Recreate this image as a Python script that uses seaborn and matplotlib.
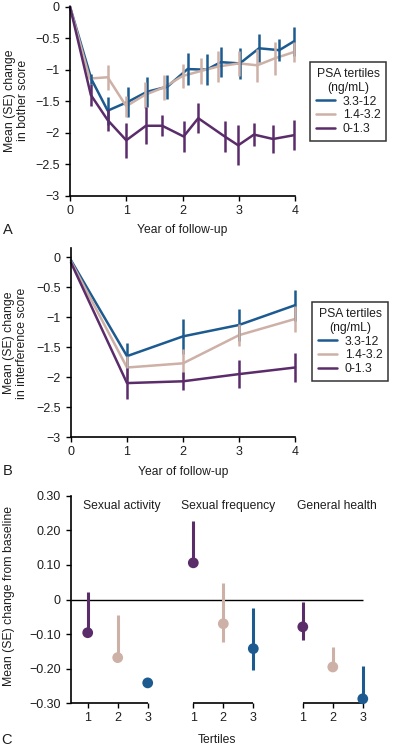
import numpy as np
import pandas as pd
import matplotlib
matplotlib.use("Agg")
import matplotlib.pyplot as plt
import seaborn as sns
from matplotlib.ticker import FuncFormatter

# ---------------- data ----------------
tertiles = ["3.3-12", "1.4-3.2", "0-1.3"]
colors = {"3.3-12": "#1c5a8f", "1.4-3.2": "#cdb0a6", "0-1.3": "#5b2c6a"}

# Panel A: bother score
a_year_hi = [0, 0.38, 0.67, 1.03, 1.37, 1.73, 2.09, 2.43, 2.68, 3.02, 3.36, 3.72, 3.98]
a_mean_hi = [0, -1.15, -1.65, -1.51, -1.35, -1.27, -0.99, -1.00, -0.88, -0.90, -0.66, -0.69, -0.55]
a_se_hi = [0, 0.08, 0.22, 0.24, 0.24, 0.19, 0.25, 0.25, 0.24, 0.24, 0.22, 0.17, 0.23]

a_year_mid = [0, 0.35, 0.67, 1.0, 1.33, 1.67, 2.0, 2.33, 2.63, 3.0, 3.33, 3.64, 3.98]
a_mean_mid = [0, -1.14, -1.12, -1.58, -1.40, -1.28, -1.10, -1.02, -0.95, -0.90, -0.93, -0.82, -0.72]
a_se_mid = [0, 0.0, 0.2, 0.17, 0.21, 0.2, 0.19, 0.2, 0.25, 0.2, 0.26, 0.26, 0.16]

a_year_lo = [0, 0.37, 0.67, 1.0, 1.35, 1.64, 2.02, 2.28, 2.75, 2.99, 3.27, 3.61, 3.98]
a_mean_lo = [0, -1.40, -1.80, -2.12, -1.89, -1.89, -2.06, -1.77, -2.06, -2.20, -2.03, -2.10, -2.04]
a_se_lo = [0, 0.17, 0.18, 0.28, 0.29, 0.17, 0.25, 0.24, 0.24, 0.32, 0.18, 0.22, 0.24]

# Panel B: interference score
b_year = [0, 1, 2, 3, 4]
b_mean_hi = [-0.05, -1.65, -1.32, -1.13, -0.80]
b_se_hi = [0, 0.22, 0.29, 0.26, 0.26]
b_mean_mid = [-0.07, -1.84, -1.77, -1.30, -1.03]
b_se_mid = [0, 0.20, 0.24, 0.18, 0.21]
b_mean_lo = [-0.09, -2.10, -2.07, -1.95, -1.84]
b_se_lo = [0, 0.26, 0.15, 0.24, 0.25]

# Panel C: change from baseline
c_outcomes = ["Sexual activity", "Sexual frequency", "General health"]
c_tertile = [1, 2, 3]
c_mean = [-0.096, -0.168, -0.241, 0.106, -0.070, -0.142, -0.079, -0.195, -0.287]
c_low = [-0.096, -0.168, -0.241, 0.106, -0.123, -0.205, -0.116, -0.195, -0.287]
c_high = [0.022, -0.046, -0.241, 0.228, 0.048, -0.026, -0.008, -0.137, -0.193]
c_tertile_label = ["0-1.3", "1.4-3.2", "3.3-12"]  # tertile 1,2,3 colours

# ---------------- style ----------------
sns.set_theme(style="ticks")
plt.rcParams["font.family"] = ["Liberation Sans", "DejaVu Sans"]
plt.rcParams["axes.unicode_minus"] = True
FS = 8.7
FST = 9.0
FSY = 8.8
TXT = "#1e1e1e"
LW = 1.8

W, H = 395, 748
fig = plt.figure(figsize=(W / 100, H / 100), dpi=100)
fig.patch.set_facecolor("white")


def px_axes(l, t, r, b):
    return fig.add_axes([l / W, 1 - b / H, (r - l) / W, (b - t) / H])


fmt = FuncFormatter(lambda v, p: ("%g" % round(v, 3)).replace("-", "\u2212"))
fmt2 = FuncFormatter(lambda v, p: "0" if abs(v) < 1e-9 else ("%.2f" % v).replace("-", "\u2212"))


def style_axes(ax):
    sns.despine(ax=ax)
    for s in ("left", "bottom"):
        ax.spines[s].set_color("black")
        ax.spines[s].set_linewidth(1.2)
    ax.tick_params(axis="both", direction="out", length=3.5, width=1.0,
                   color="black", labelsize=FST, labelcolor=TXT)
    ax.tick_params(axis="y", pad=4.0)
    ax.tick_params(axis="x", pad=3)
    ax.set_xlabel("")
    ax.set_ylabel("")


def make_legend(ax, x0, y0):
    h, l = ax.get_legend_handles_labels()
    if ax.get_legend() is not None:
        ax.get_legend().remove()
    leg = ax.legend(h, l, title="PSA tertiles\n(ng/mL)", loc="upper left",
                    bbox_to_anchor=(x0 / W, 1 - y0 / H), bbox_transform=fig.transFigure,
                    frameon=True, fancybox=False, edgecolor="black", fontsize=FS,
                    title_fontsize=FS, handlelength=1.6, handletextpad=0.6,
                    labelspacing=0.15, borderpad=0.5, borderaxespad=0)
    leg.get_frame().set_linewidth(1.1)
    leg.get_title().set_multialignment("center")
    leg.get_title().set_color(TXT)
    for t in leg.get_texts():
        t.set_color(TXT)
    for ln in leg.get_lines():
        ln.set_linewidth(LW)
    return leg


# ---------------- Panel A ----------------
axA = px_axes(70, 6.7, 295, 195.7)
dfA = pd.concat([
    pd.DataFrame({"year": a_year_hi, "change": a_mean_hi, "se": a_se_hi, "PSA": tertiles[0]}),
    pd.DataFrame({"year": a_year_mid, "change": a_mean_mid, "se": a_se_mid, "PSA": tertiles[1]}),
    pd.DataFrame({"year": a_year_lo, "change": a_mean_lo, "se": a_se_lo, "PSA": tertiles[2]}),
], ignore_index=True)
sns.lineplot(data=dfA, x="year", y="change", hue="PSA", hue_order=tertiles, palette=colors,
             estimator=None, errorbar=None, linewidth=LW, ax=axA, clip_on=False)
for t in tertiles:
    d = dfA[(dfA["PSA"] == t) & (dfA["se"] > 0)]
    axA.vlines(d["year"], d["change"] - d["se"], d["change"] + d["se"],
               color=colors[t], linewidth=LW, clip_on=False)
axA.set_xlim(0, 4)
axA.set_ylim(-3, 0)
axA.set_xticks([0, 1, 2, 3, 4])
axA.set_yticks([0, -0.5, -1, -1.5, -2, -2.5, -3])
axA.yaxis.set_major_formatter(fmt)
style_axes(axA)
make_legend(axA, 310, 62)

# ---------------- Panel B ----------------
axB = px_axes(71, 248.3, 295, 437)
dfB = pd.concat([
    pd.DataFrame({"year": b_year, "change": b_mean_hi, "se": b_se_hi, "PSA": tertiles[0]}),
    pd.DataFrame({"year": b_year, "change": b_mean_mid, "se": b_se_mid, "PSA": tertiles[1]}),
    pd.DataFrame({"year": b_year, "change": b_mean_lo, "se": b_se_lo, "PSA": tertiles[2]}),
], ignore_index=True)
sns.lineplot(data=dfB, x="year", y="change", hue="PSA", hue_order=tertiles, palette=colors,
             estimator=None, errorbar=None, linewidth=LW, ax=axB, clip_on=False)
for t in tertiles:
    d = dfB[(dfB["PSA"] == t) & (dfB["se"] > 0)]
    axB.vlines(d["year"], d["change"] - d["se"], d["change"] + d["se"],
               color=colors[t], linewidth=LW, clip_on=False)
axB.set_xlim(0, 4)
axB.set_ylim(-3, 0.15)
axB.set_xticks([0, 1, 2, 3, 4])
axB.set_yticks([0, -0.5, -1, -1.5, -2, -2.5, -3])
axB.yaxis.set_major_formatter(fmt)
style_axes(axB)
make_legend(axB, 312, 302)

# ---------------- Panel C ----------------
group_offset = [0, 3.52, 7.17]
axC = px_axes(71, 495.7, 372, 703.3)
rows = []
for gi, outc in enumerate(c_outcomes):
    for ti, tt in enumerate(c_tertile):
        k = gi * 3 + ti
        rows.append({"outcome": outc, "tertile": tt, "pos": group_offset[gi] + ti,
                     "mean": c_mean[k], "low": c_low[k], "high": c_high[k],
                     "PSA": c_tertile_label[ti]})
dfC = pd.DataFrame(rows)
xl = (-0.557, 9.477)
axC.set_xlim(*xl)
axC.set_ylim(-0.30, 0.30)
axC.hlines(0, xl[0], dfC["pos"].max(), color="black", linewidth=1.0, zorder=1)
for _, r in dfC.iterrows():
    if r["high"] > r["low"]:
        axC.vlines(r["pos"], r["low"], r["high"], color=colors[r["PSA"]],
                   linewidth=2.2, zorder=2, clip_on=False)
sns.scatterplot(data=dfC, x="pos", y="mean", hue="PSA", palette=colors, s=60,
                edgecolor="none", legend=False, ax=axC, zorder=3, clip_on=False)
axC.set_xticks(dfC["pos"].tolist())
axC.set_xticklabels([str(t) for t in dfC["tertile"]])
axC.set_yticks([0.30, 0.20, 0.10, 0, -0.10, -0.20, -0.30])
axC.yaxis.set_major_formatter(fmt2)
style_axes(axC)
axC.set_xlim(*xl)
axC.spines["bottom"].set_visible(False)
for gi, outc in enumerate(c_outcomes):
    g = dfC[dfC["outcome"] == outc]
    start = xl[0] if gi == 0 else g["pos"].min()
    axC.plot([start, g["pos"].max()], [-0.30, -0.30], color="black", linewidth=1.2,
             clip_on=False, solid_capstyle="butt")
    axC.text(g["pos"].mean() + 0.15, 0.271, outc, ha="center", va="center",
             fontsize=FS, color=TXT)

# ---------------- text labels ----------------
def ftext(x, y, s, **kw):
    kw.setdefault("fontsize", FS)
    kw.setdefault("color", TXT)
    fig.text(x / W, 1 - y / H, s, **kw)

ftext(16.5, 100.5, "Mean (SE) change\nin bother score", rotation=90, ha="center", va="center",
      multialignment="center", linespacing=1.2, fontsize=FSY)
ftext(15.5, 343, "Mean (SE) change\nin interference score", rotation=90, ha="center",
      va="center", multialignment="center", linespacing=1.2, fontsize=FSY)
ftext(9, 596, "Mean (SE) change from baseline", rotation=90, ha="center", va="center",
      fontsize=FSY)
ftext(182.5, 230, "Year of follow-up", ha="center", va="center")
ftext(183, 471.5, "Year of follow-up", ha="center", va="center")
ftext(216.7, 740, "Tertiles", ha="center", va="center")
ftext(2.5, 230, "A", ha="left", va="center", fontsize=10.5)
ftext(2.5, 471, "B", ha="left", va="center", fontsize=10.5)
ftext(1.5, 740, "C", ha="left", va="center", fontsize=10.5)

fig.savefig("out.png", dpi=100, facecolor="white")
